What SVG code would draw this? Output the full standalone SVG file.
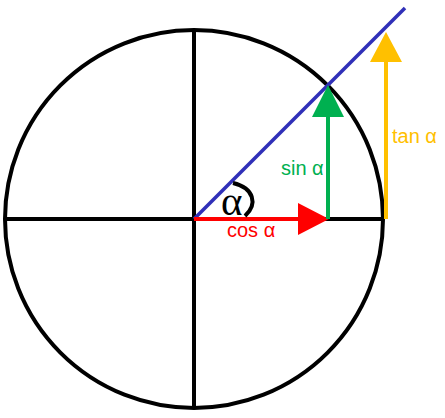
<svg xmlns="http://www.w3.org/2000/svg" width="445" height="418" viewBox="0 0 445 418">
<style>
.k{stroke:#000;stroke-width:4;fill:none}
.lbl{font-family:"Liberation Sans",Arial,sans-serif;font-size:20px}
</style>
<rect width="445" height="418" fill="#fff"/>
<g id="circle">
<circle cx="194" cy="219" r="189" class="k"/>
</g>
<g id="axes">
<line x1="194" y1="30" x2="194" y2="408" class="k"/>
<line x1="5" y1="219" x2="384" y2="219" class="k"/>
</g>
<g id="connectors">
<line x1="194" y1="219" x2="405" y2="8" stroke="#3030B8" stroke-width="3.5"/>
<g id="cos">
<line x1="194" y1="219" x2="300" y2="219" stroke="#FF0000" stroke-width="4"/>
<polygon points="298,203 329,219 298,235" fill="#FF0000"/>
</g>
<g id="sin">
<line x1="328" y1="219" x2="328" y2="116" stroke="#00B050" stroke-width="4"/>
<polygon points="312,117 328,85 344,117" fill="#00B050"/>
</g>
<g id="tan">
<line x1="386" y1="219" x2="386" y2="60" stroke="#FFC000" stroke-width="4"/>
<polygon points="370,62 386,32 402,62" fill="#FFC000"/>
</g>
<path d="M233,183 C254,188 258,204 245,216" class="k"/>
</g>
<g id="labels">
<text x="221" y="215" font-family="Liberation Serif,Times New Roman,serif" font-size="41">α</text>
<text x="227" y="237" class="lbl" fill="#FF0000">cos α</text>
<text x="281" y="175" class="lbl" fill="#00B050">sin α</text>
<text x="392" y="143" class="lbl" fill="#FFC000">tan α</text>
</g>
</svg>
